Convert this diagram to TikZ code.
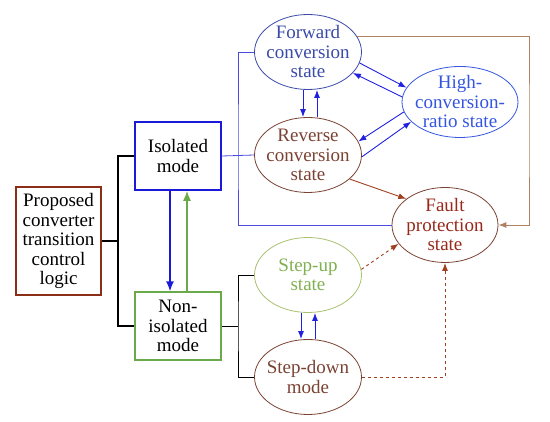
\documentclass[tikz,border=0pt]{standalone}
\usepackage{fontspec}
\setmainfont{Liberation Serif}
\usetikzlibrary{arrows.meta, shapes.geometric, calc}

\definecolor{propbrown}{HTML}{8A2E18}
\definecolor{isoblue}{HTML}{1A1AD8}
\definecolor{nongreen}{HTML}{6AAA4A}
\definecolor{fwdblue}{HTML}{3A4AA8}
\definecolor{highblue}{HTML}{3355E0}
\definecolor{revbrown}{HTML}{7A4232}
\definecolor{faultred}{HTML}{98281A}
\definecolor{upgreen}{HTML}{A8C070}
\definecolor{uptext}{HTML}{80B050}
\definecolor{linkblue}{HTML}{4A4AE0}
\definecolor{arrowblue}{HTML}{2020E0}
\definecolor{tanline}{HTML}{B08060}
\definecolor{arrowbrown}{HTML}{A04020}

\begin{document}
\begin{tikzpicture}[x=1pt, y=-1pt, font=\fontsize{19}{19.5}\selectfont,
  modebox/.style={draw, line width=1.6pt, fill=white, minimum width=86pt, minimum height=68pt, inner sep=1pt, align=center},
  statenode/.style={ellipse, draw, line width=0.8pt, minimum width=107pt, minimum height=75pt, inner xsep=-5pt, inner ysep=-3pt, align=center},
  bigtip/.style={line width=1.6pt, -{Latex[length=10pt,width=8pt]}},
  smalltip/.style={arrowblue, line width=0.9pt, -{Latex[length=8pt,width=6pt]}},
  brtip/.style={arrowbrown, line width=0.9pt, -{Latex[length=8pt,width=6pt]}},
  dashtip/.style={arrowbrown, line width=0.9pt, dashed, -{Latex[length=8pt,width=6pt]}}]
  \useasboundingbox (0,0) rectangle (550,422);

  % left part
  \node[modebox, draw=propbrown, minimum width=85pt, minimum height=108pt] (prop) at (58.5,241) {Proposed\\converter\\transition\\control\\logic};
  \node[modebox, draw=isoblue] (iso) at (178,156) {Isolated\\mode};
  \node[modebox, draw=nongreen, line width=1.2pt] (noniso) at (178,326) {Non-\\isolated\\mode};

  % states
  \node[statenode, draw=fwdblue, text=fwdblue] (fwd) at (308,52) {Forward\\conversion\\state};
  \node[statenode, draw=revbrown, text=revbrown] (rev) at (308,155) {Reverse\\conversion\\state};
  \node[statenode, draw=highblue, text=highblue, minimum width=116pt, minimum height=71pt] (high) at (460,102) {High-\\conversion-\\ratio state};
  \node[statenode, draw=revbrown, text=faultred, minimum width=106pt] (fault) at (445,225) {Fault\\protection\\state};
  \node[statenode, draw=upgreen, text=uptext] (up) at (308,275) {Step-up\\state};
  \node[statenode, draw=revbrown, text=revbrown] (down) at (308,377) {Step-down\\mode};

  \coordinate (jl) at (118,241);
  \coordinate (ji) at (238,155);
  \coordinate (jn) at (238,326);
  \coordinate (jf) at (529,130);

  % tree lines
  \draw[line width=1.2pt] (prop.east) -- (jl);
  \draw[line width=1.2pt] (iso.west) -| (jl) |- (noniso.west);
  \draw[linkblue, line width=0.8pt] (iso.east) -- (rev.west);
  \draw[linkblue, line width=0.8pt] (fwd.west) -| (ji) |- (fault.west);
  \draw[line width=0.7pt] (noniso.east) -- (jn);
  \draw[line width=0.7pt] (up.west) -| (jn) |- (down.west);

  % transitions
  \draw[bigtip, isoblue] ([xshift=-8pt]iso.south) -- ([xshift=-8pt]noniso.north);
  \draw[bigtip, nongreen] ([xshift=9pt]noniso.north) -- ([xshift=9pt]iso.south);
  \draw[smalltip] ([xshift=-5pt]fwd.south) -- ([xshift=-5pt]rev.north);
  \draw[smalltip] ([xshift=9pt]rev.north) -- ([xshift=9pt]fwd.south);
  \draw[smalltip] (fwd.-12) -- (high.165);
  \draw[smalltip] (high.175) -- (fwd.-25);
  \draw[smalltip] (high.190) -- (rev.15);
  \draw[smalltip] (rev.-2) -- (high.202);
  \draw[smalltip] ([xshift=-7pt]up.south) -- ([xshift=-7pt]down.north);
  \draw[smalltip] ([xshift=7pt]down.north) -- ([xshift=7pt]up.south);

  % to fault state
  \draw[brtip] (rev.-30) -- (fault.146);
  \draw[brtip, tanline] (fwd.18) -| (jf) |- (fault.east);
  \draw[dashtip] (up.6) -- (fault.202);
  \draw[dashtip] (down.east) -| (fault.south);
\end{tikzpicture}
\end{document}
